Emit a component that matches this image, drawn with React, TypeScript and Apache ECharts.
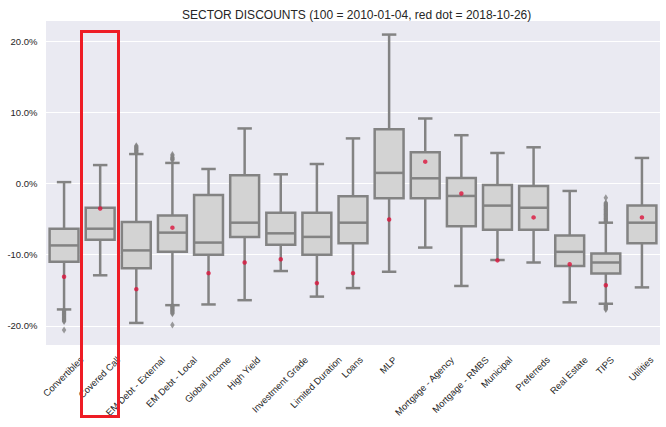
import React, { useEffect, useRef } from "react";
import * as echarts from "echarts";

const TITLE = "SECTOR DISCOUNTS (100 = 2010-01-04, red dot = 2018-10-26)";

const CATEGORIES = [
  "Convertibles",
  "Covered Call",
  "EM Debt - External",
  "EM Debt - Local",
  "Global Income",
  "High Yield",
  "Investment Grade",
  "Limited Duration",
  "Loans",
  "MLP",
  "Mortgage - Agency",
  "Mortgage - RMBS",
  "Municipal",
  "Preferreds",
  "Real Estate",
  "TIPS",
  "Utilities",
];

const WHISKER_LOW = [-17.7, -12.9, -19.6, -17.1, -17.0, -16.4, -12.3, -15.9, -14.7, -12.4, -9.0, -14.4, -10.75, -11.1, -16.7, -16.9, -14.6];
const Q1 = [-11.0, -7.9, -11.9, -9.6, -10.0, -7.5, -8.6, -10.0, -8.4, -2.06, -2.06, -6.0, -6.5, -6.5, -11.6, -12.66, -8.4];
const MEDIAN = [-8.7, -6.35, -9.4, -6.9, -8.3, -5.5, -7.0, -7.5, -5.5, 1.5, 0.74, -1.74, -3.1, -3.4, -9.6, -11.1, -5.5];
const Q3 = [-6.35, -3.4, -5.4, -4.5, -1.6, 1.16, -4.1, -4.1, -1.8, 7.65, 4.4, 0.78, -0.2, -0.33, -7.3, -9.85, -3.1];
const WHISKER_HIGH = [0.2, 2.6, 4.15, 2.9, 2.05, 7.75, 1.3, 2.75, 6.35, 20.95, 9.15, 6.8, 4.3, 5.1, -1.04, -5.5, 3.6];
const CURRENT = [-13.1, -3.5, -14.85, -6.2, -12.6, -11.1, -10.65, -14.0, -12.6, -5.05, 3.08, -1.4, -10.8, -4.76, -11.35, -14.3, -4.76];

// [category index, value]
const OUTLIERS = [
  [0, -17.8], [0, -17.9], [0, -18.0], [0, -18.1], [0, -18.2], [0, -18.3], [0, -18.4], [0, -18.5], [0, -18.6], [0, -18.7],
  [0, -18.8], [0, -18.9], [0, -19.0], [0, -19.1], [0, -19.2], [0, -19.3], [0, -19.4], [0, -20.6],
  [2, 4.3], [2, 4.4], [2, 4.5], [2, 4.6], [2, 4.7], [2, 4.8], [2, 4.9], [2, 5.0], [2, 5.1], [2, 5.2], [2, 5.3],
  [3, 3.3], [3, 3.4], [3, 3.5], [3, 3.6], [3, 3.7], [3, 3.9], [3, 4.1],
  [3, -17.2], [3, -17.3], [3, -17.4], [3, -17.5], [3, -17.6], [3, -17.7], [3, -17.8], [3, -17.9], [3, -18.0],
  [3, -18.1], [3, -18.2], [3, -18.3], [3, -19.9],
  [15, -5.4], [15, -5.3], [15, -5.2], [15, -5.1], [15, -5.0], [15, -4.9], [15, -4.8], [15, -4.7], [15, -4.6],
  [15, -4.5], [15, -4.4], [15, -4.3], [15, -4.2], [15, -4.1], [15, -4.0], [15, -3.9], [15, -3.8], [15, -3.7],
  [15, -3.6], [15, -3.5], [15, -3.4], [15, -3.3], [15, -3.2], [15, -3.1], [15, -3.0], [15, -2.9], [15, -2.8],
  [15, -2.7], [15, -2.0],
  [15, -17.0], [15, -17.1], [15, -17.2], [15, -17.3], [15, -17.4], [15, -17.5], [15, -17.6], [15, -17.7],
];

const Y_MIN = -22.8;
const Y_MAX = 23.0;

const FONT = "'Liberation Sans', Arial, sans-serif";
const TEXT_COLOR = "#262626";
const LINE_COLOR = "#838383";
const BOX_FILL = "#d3d3d3";
const LABEL_FS = 9.4;

export default function App() {
  const ref = useRef<HTMLDivElement>(null);

  useEffect(() => {
    document.body.style.margin = "0";
    if (!ref.current) return;
    const chart = echarts.init(ref.current, null, { renderer: "svg" });

    const ctx = document.createElement("canvas").getContext("2d");
    const measure = (t: string) => {
      if (!ctx) return t.length * LABEL_FS * 0.55;
      ctx.font = `${LABEL_FS}px 'Liberation Sans', Arial, sans-serif`;
      return ctx.measureText(t).width;
    };

    const boxData = CATEGORIES.map((_, i) => [i, WHISKER_LOW[i], Q1[i], MEDIAN[i], Q3[i], WHISKER_HIGH[i]]);

    const boxRender = (params: any, api: any) => {
      const x = api.value(0);
      const pLo = api.coord([x, api.value(1)]);
      const pQ1 = api.coord([x, api.value(2)]);
      const pMed = api.coord([x, api.value(3)]);
      const pQ3 = api.coord([x, api.value(4)]);
      const pHi = api.coord([x, api.value(5)]);
      const band = api.size([1, 0])[0];
      const bw = band * 0.8;
      const cw = bw * 0.5;
      const cx = pLo[0];
      const ls = { stroke: LINE_COLOR, lineWidth: 2.5, fill: "none" };
      return {
        type: "group",
        children: [
          { type: "line", shape: { x1: cx, y1: pQ3[1], x2: cx, y2: pHi[1] }, style: ls },
          { type: "line", shape: { x1: cx, y1: pQ1[1], x2: cx, y2: pLo[1] }, style: ls },
          { type: "line", shape: { x1: cx - cw / 2, y1: pHi[1], x2: cx + cw / 2, y2: pHi[1] }, style: ls },
          { type: "line", shape: { x1: cx - cw / 2, y1: pLo[1], x2: cx + cw / 2, y2: pLo[1] }, style: ls },
          {
            type: "rect",
            shape: { x: cx - bw / 2, y: pQ3[1], width: bw, height: pQ1[1] - pQ3[1] },
            style: { fill: BOX_FILL, stroke: LINE_COLOR, lineWidth: 2.5 },
          },
          { type: "line", shape: { x1: cx - bw / 2, y1: pMed[1], x2: cx + bw / 2, y2: pMed[1] }, style: ls },
        ],
      };
    };

    const labelRender = (params: any, api: any) => {
      const i = api.value(0);
      const p = api.coord([i, Y_MIN]);
      const name = CATEGORIES[i];
      const w = measure(name);
      const h = LABEL_FS * 1.15;
      const diag = (w + h) * Math.SQRT1_2;
      return {
        type: "text",
        x: p[0] - 1,
        y: p[1] + 8.5 + diag / 2,
        rotation: Math.PI / 4,
        style: {
          text: name,
          x: 0,
          y: 0,
          align: "center",
          verticalAlign: "middle",
          fontSize: LABEL_FS,
          fontFamily: FONT,
          fill: TEXT_COLOR,
        },
      };
    };

    chart.setOption({
      animation: false,
      title: {
        text: TITLE,
        left: 177,
        top: 4,
        textStyle: { fontSize: 12, fontWeight: "normal", color: TEXT_COLOR, fontFamily: FONT },
      },
      grid: {
        left: 46,
        right: 6,
        top: 20,
        bottom: 81.3,
        show: true,
        backgroundColor: "#EAEAF2",
        borderWidth: 0,
      },
      xAxis: {
        type: "category",
        data: CATEGORIES,
        boundaryGap: true,
        axisLine: { show: false },
        axisTick: { show: false },
        axisLabel: { show: false },
        splitLine: { show: false },
      },
      yAxis: {
        type: "value",
        min: Y_MIN,
        max: Y_MAX,
        splitNumber: 5,
        axisLine: { show: false },
        axisTick: { show: false },
        splitLine: { show: true, lineStyle: { color: "#ffffff", width: 1.2 } },
        axisLabel: {
          showMinLabel: false,
          showMaxLabel: false,
          margin: 8.5,
          fontSize: 9.5,
          fontFamily: FONT,
          color: TEXT_COLOR,
          formatter: (v: number) => v.toFixed(1) + "%",
        },
      },
      series: [
        {
          type: "custom",
          name: "box",
          renderItem: boxRender,
          data: boxData,
          encode: { x: 0, y: [1, 2, 3, 4, 5] },
          z: 2,
        },
        {
          type: "scatter",
          name: "outliers",
          data: OUTLIERS,
          symbol: "diamond",
          symbolSize: [4.5, 7],
          itemStyle: { color: LINE_COLOR },
          z: 3,
        },
        {
          type: "scatter",
          name: "current",
          data: CURRENT.map((v, i) => [i, v]),
          symbol: "circle",
          symbolSize: 4.5,
          itemStyle: { color: "#dc143c" },
          z: 4,
        },
        {
          type: "custom",
          name: "labels",
          renderItem: labelRender,
          data: CATEGORIES.map((_, i) => [i, Y_MIN]),
          encode: { x: 0, y: 1 },
          clip: false,
          silent: true,
          z: 5,
        },
      ],
      graphic: [
        {
          type: "rect",
          shape: { x: 81.5, y: 31.5, width: 37, height: 385 },
          style: { fill: "none", stroke: "#ee1c25", lineWidth: 3 },
          z: 100,
        },
      ],
    });

    return () => chart.dispose();
  }, []);

  return <div ref={ref} style={{ width: 666, height: 427 }} />;
}
